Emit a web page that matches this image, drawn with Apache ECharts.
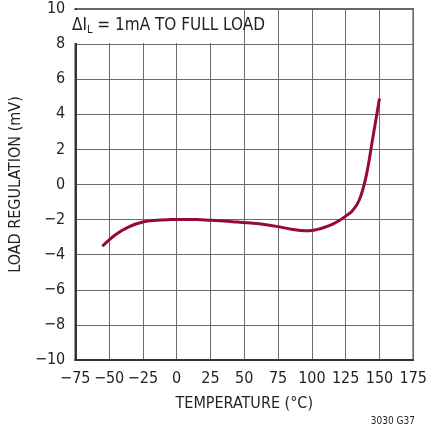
<!DOCTYPE html>
<html lang="en">
<head>
    <meta charset="UTF-8">
    <title>Load Regulation vs Temperature</title>
    <style type="text/css">
        html,body{
            margin:0;
            padding:0;
            background-color:#ffffff;
        }
        #chart{
            width:430px;
            height:431px;
        }
    </style>
</head>
<body>
<div id="chart"></div>
</body>
<script src="https://cdn.jsdelivr.net/npm/echarts@6/dist/echarts.min.js"></script>

<script type="text/javascript">
    // temperature (°C) and load regulation (mV)
    var temps = [-55, -45, -35, -25, -15, -5, 5, 15, 25, 35, 45, 55, 65, 75, 85, 95, 100, 105, 110, 115, 120, 125, 130, 135, 140, 145, 150];
    var regs  = [-3.52, -2.85, -2.4, -2.14, -2.04, -2.0, -1.99, -2.0, -2.04, -2.08, -2.14, -2.2, -2.28, -2.4, -2.55, -2.64, -2.62, -2.54, -2.42, -2.27, -2.07, -1.8, -1.5, -0.9, 0.42, 2.62, 4.9];

    var xTicks = [-75, 175, 25];
    var yTicks = [-10, 10, 2];

    var font = '"DejaVu Sans Condensed", "Liberation Sans Narrow", "Liberation Sans", sans-serif';
    var ink = '#231f20';

    function minus(v){
        return String(v).replace('-', '\u2212');
    }

    var points = [];
    for (var i = 0; i < temps.length; i++) {
        points.push([temps[i], regs[i]]);
    }

    var chart = echarts.init(document.getElementById('chart'));
    chart.setOption({
        animation: false,
        grid: {
            left: 64,
            right: 14,
            top: 9,
            bottom: 71,
            show: true,
            borderColor: '#333',
            borderWidth: 1.5,
            backgroundColor: 'transparent'
        },
        xAxis: {
            type: 'value',
            min: xTicks[0],
            max: xTicks[1],
            interval: xTicks[2],
            name: 'TEMPERATURE (\u00b0C)',
            nameLocation: 'middle',
            nameGap: 36,
            nameTextStyle: {fontFamily: font, fontSize: 16, color: ink},
            axisLine: {onZero: false, lineStyle: {color: '#333', width: 2}},
            axisTick: {show: false},
            axisLabel: {
                fontFamily: font, fontSize: 16, color: ink, margin: 11,
                formatter: minus
            },
            splitLine: {lineStyle: {color: '#6a6a6a', width: 1}}
        },
        yAxis: {
            type: 'value',
            min: yTicks[0],
            max: yTicks[1],
            interval: yTicks[2],
            name: 'LOAD REGULATION (mV)',
            nameLocation: 'middle',
            nameGap: 44,
            nameTextStyle: {fontFamily: font, fontSize: 16, color: ink},
            axisLine: {show: true, onZero: false, lineStyle: {color: '#333', width: 2}},
            axisTick: {show: false},
            axisLabel: {
                fontFamily: font, fontSize: 16, color: ink, margin: 10,
                formatter: minus
            },
            splitLine: {lineStyle: {color: '#6a6a6a', width: 1}}
        },
        series: [{
            type: 'line',
            data: points,
            smooth: 0.4,
            showSymbol: false,
            lineStyle: {color: '#960a35', width: 3},
            z: 5
        }],
        graphic: [
            {
                type: 'rect',
                z: 1,
                shape: {x: 65, y: 10, width: 173, height: 33},
                style: {fill: '#ffffff'}
            },
            {
                type: 'text',
                z: 3,
                left: 72,
                top: 17,
                style: {
                    text: '{a|\u0394I}{s|L}{a| = 1mA TO FULL LOAD}',
                    rich: {
                        a: {fontFamily: font, fontSize: 17, fill: ink},
                        s: {fontFamily: font, fontSize: 11, fill: ink, padding: [10, 0, 0, 0]}
                    }
                }
            },
            {
                type: 'text',
                right: 15,
                top: 416,
                style: {text: '3030 G37', fontFamily: font, fontSize: 10, fill: ink}
            }
        ]
    });
</script>

</html>
